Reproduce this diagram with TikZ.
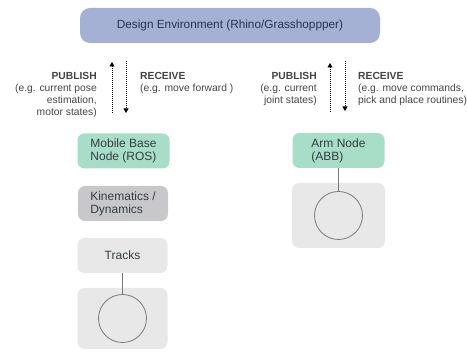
\documentclass[tikz,border=0pt]{standalone}
\usepackage{fontspec}
\setmainfont{Liberation Sans}
\usetikzlibrary{arrows.meta}
\definecolor{topfill}{HTML}{A4B1D5}
\definecolor{toptext}{HTML}{2B3350}
\definecolor{mint}{HTML}{A8DDC8}
\definecolor{midgray}{HTML}{C8C8CB}
\definecolor{lightgray}{HTML}{E8E8E8}
\definecolor{nodetext}{HTML}{353D42}
\definecolor{lbltext}{HTML}{444444}
\definecolor{linegray}{HTML}{7A7A7A}
\begin{document}
\begin{tikzpicture}[x=1pt,y=-1pt,
  topbox/.style={fill=topfill, rounded corners=10pt, minimum width=300pt, minimum height=35pt, inner sep=0pt, text=toptext, font=\fontsize{11.8}{13}\selectfont},
  nodebox/.style={rounded corners=7pt, minimum width=92pt, minimum height=35pt, inner sep=0pt, align=left, text=nodetext, font=\fontsize{12}{13}\selectfont},
  lbl/.style={inner sep=0pt, text=lbltext, font=\fontsize{10.3}{12}\selectfont},
  flow/.style={line width=0.8pt, dash pattern=on 0.8pt off 1.2pt, -{Triangle[width=5pt,length=4.5pt]}},
  wheel/.style={circle, draw=linegray, line width=0.8pt, minimum size=48pt, inner sep=0pt},
  link/.style={draw=linegray, line width=0.8pt}]
\useasboundingbox (0,0) rectangle (467,352);

% top box
\node[topbox] (env) at (230,25.5) {Design Environment (Rhino/Grasshoppper)};

% arrows
\coordinate (pubLbot) at (112,113);
\coordinate (pubLtop) at (112,62);
\coordinate (recLtop) at (126,61);
\coordinate (recLbot) at (126,113);
\coordinate (pubRbot) at (330,112);
\coordinate (pubRtop) at (330,63);
\coordinate (recRtop) at (345,61);
\coordinate (recRbot) at (345,111);
\draw[flow] (pubLbot) -- (pubLtop);
\draw[flow] (recLtop) -- (recLbot);
\draw[flow] (pubRbot) -- (pubRtop);
\draw[flow] (recRtop) -- (recRbot);

% labels
\node[lbl, anchor=north east, align=right] (pubL) at (97,72.3) {\textbf{PUBLISH}\\(e.g. current pose\\estimation,\\motor states)};
\node[lbl, anchor=north west, align=left] (recL) at (140,72.3) {\textbf{RECEIVE}\\(e.g. move forward )};
\node[lbl, anchor=north east, align=right] (pubR) at (317,72.3) {\textbf{PUBLISH}\\(e.g. current\\joint states)};
\node[lbl, anchor=north west, align=left] (recR) at (358,72.3) {\textbf{RECEIVE}\\(e.g. move commands,\\pick and place routines)};

% left column
\node[nodebox, fill=mint] (mobile) at (123.5,151) {Mobile Base\\Node (ROS)};
\node[nodebox, fill=midgray, minimum width=90pt] (kin) at (123,203.5) {Kinematics /\\Dynamics};
\node[nodebox, fill=lightgray, minimum width=90pt, align=center] (tracks) at (122.5,255.5) {Tracks};
\node[nodebox, fill=lightgray, minimum width=90pt, minimum height=61pt] (wheelboxL) at (122.5,318.5) {};
\node[wheel] (circL) at (122.5,318.5) {};
\draw[link] (tracks.south) -- (circL.north);

% right column
\node[nodebox, fill=mint] (arm) at (338.5,150.5) {Arm Node\\(ABB)};
\node[nodebox, fill=lightgray, minimum width=93pt, minimum height=65pt] (wheelboxR) at (338.5,215.5) {};
\node[wheel] (circR) at (338.5,215.5) {};
\draw[link] (arm.south) -- (circR.north);
\end{tikzpicture}
\end{document}
